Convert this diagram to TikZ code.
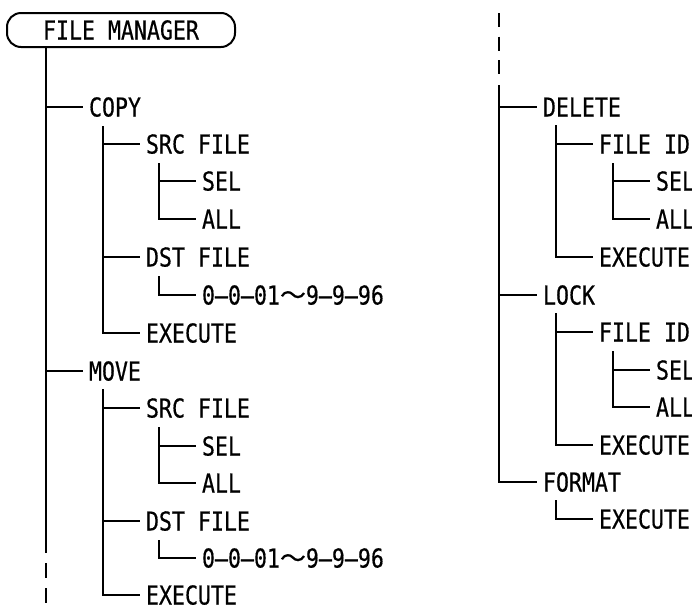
\documentclass[tikz,border=0pt]{standalone}
\usepackage{fontspec}
\newfontfamily\tfont{DejaVu Sans Mono}[FakeStretch=0.83,FakeBold=0.5]
\newfontfamily\cjkfont{Noto Sans CJK JP}[FakeBold=0.5]
\begin{document}
\begin{tikzpicture}[x=1pt,y=-1pt,line width=2pt,
  lbl/.style={anchor=west,inner xsep=5pt,inner ysep=0pt,
    font=\tfont\fontsize{26}{26}\selectfont,text height=19pt,text depth=0pt},
  rootbox/.style={draw,rounded corners=14pt,minimum width=228pt,minimum height=34pt,
    inner sep=0pt,font=\tfont\fontsize{26}{26}\selectfont,text height=19pt,text depth=0pt},
  brokenline/.style={dash pattern=on 15pt off 10pt},
  brokentop/.style={dash pattern=on 14pt off 9.5pt}]
\useasboundingbox (0,0) rectangle (692,611);
\def\tl{\cjkfont ～}
\def\rng{0–0–01{\tl}9–9–96}
% root
\node[rootbox] (root) at (121,30) {FILE MANAGER};
% left column nodes
\node[lbl] (copy) at (83,107) {COPY};
\node[lbl] (src1) at (140,144) {SRC FILE};
\node[lbl] (sel1) at (196,181) {SEL};
\node[lbl] (all1) at (196,219) {ALL};
\node[lbl] (dst1) at (140,257) {DST FILE};
\node[lbl] (rng1) at (196,295) {\rng};
\node[lbl] (exe1) at (140,333) {EXECUTE};
\node[lbl] (move) at (83,371) {MOVE};
\node[lbl] (src2) at (140,408) {SRC FILE};
\node[lbl] (sel2) at (196,446) {SEL};
\node[lbl] (all2) at (196,483) {ALL};
\node[lbl] (dst2) at (140,521) {DST FILE};
\node[lbl] (rng2) at (196,558) {\rng};
\node[lbl] (exe2) at (140,595) {EXECUTE};
% right column nodes
\node[lbl] (del) at (537,107) {DELETE};
\node[lbl] (fid1) at (593,144) {FILE ID};
\node[lbl] (sel3) at (650,181) {SEL};
\node[lbl] (all3) at (650,219) {ALL};
\node[lbl] (exe3) at (593,257) {EXECUTE};
\node[lbl] (lock) at (537,295) {LOCK};
\node[lbl] (fid2) at (593,332) {FILE ID};
\node[lbl] (sel4) at (650,370) {SEL};
\node[lbl] (all4) at (650,407) {ALL};
\node[lbl] (exe4) at (593,445) {EXECUTE};
\node[lbl] (fmt) at (537,482) {FORMAT};
\node[lbl] (exe5) at (593,519) {EXECUTE};
% trunk coordinates
\coordinate (t0) at (46,47);
\coordinate (t0e) at (46,553);
\coordinate (t0a) at (46,563);
\coordinate (t0b) at (46,603);
\coordinate (tc) at (103,126);
\coordinate (tcs) at (159,163);
\coordinate (tcd) at (159,276);
\coordinate (tm) at (103,389);
\coordinate (tms) at (159,427);
\coordinate (tmd) at (159,540);
\coordinate (r0a) at (499,13);
\coordinate (r0b) at (499,75);
\coordinate (r0) at (499,85);
\coordinate (td) at (556,125);
\coordinate (tdf) at (613,163);
\coordinate (tl) at (556,313);
\coordinate (tlf) at (613,351);
\coordinate (tf) at (556,500);
% left connectors
\draw (t0) -- (t0e);
\draw[brokenline] (t0a) -- (t0b);
\draw (t0 |- copy.west) -- (copy.west);
\draw (t0 |- move.west) -- (move.west);
\draw (tc |- src1.west) -- (src1.west);
\draw (tc |- dst1.west) -- (dst1.west);
\draw (tc) |- (exe1.west);
\draw (tcs |- sel1.west) -- (sel1.west);
\draw (tcs) |- (all1.west);
\draw (tcd) |- (rng1.west);
\draw (tm |- src2.west) -- (src2.west);
\draw (tm |- dst2.west) -- (dst2.west);
\draw (tm) |- (exe2.west);
\draw (tms |- sel2.west) -- (sel2.west);
\draw (tms) |- (all2.west);
\draw (tmd) |- (rng2.west);
% right connectors
\draw[brokentop] (r0a) -- (r0b);
\draw (r0 |- del.west) -- (del.west);
\draw (r0 |- lock.west) -- (lock.west);
\draw (r0) |- (fmt.west);
\draw (td |- fid1.west) -- (fid1.west);
\draw (td) |- (exe3.west);
\draw (tdf |- sel3.west) -- (sel3.west);
\draw (tdf) |- (all3.west);
\draw (tl |- fid2.west) -- (fid2.west);
\draw (tl) |- (exe4.west);
\draw (tlf |- sel4.west) -- (sel4.west);
\draw (tlf) |- (all4.west);
\draw (tf) |- (exe5.west);
\end{tikzpicture}
\end{document}
